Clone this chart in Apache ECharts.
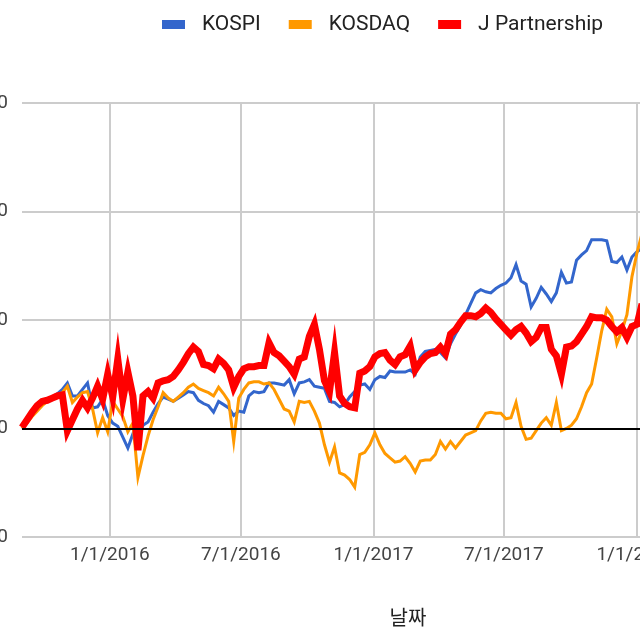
<!DOCTYPE html>
<html style="height: 100%">
<head>
    <meta charset="utf-8">
    <script src="https://cdn.jsdelivr.net/npm/echarts@6.0.0/dist/echarts.min.js"></script>
</head>
<body style="height: 100%; margin: 0; background: #fff">
<div id="container" style="width: 640px; height: 640px"></div>
<script>
    // weekly points
    var dates = [
        '2015-09-01','2015-09-08','2015-09-15','2015-09-22','2015-09-29','2015-10-06','2015-10-13','2015-10-20','2015-10-27','2015-11-03',
        '2015-11-10','2015-11-17','2015-11-24','2015-12-01','2015-12-08','2015-12-15','2015-12-22','2015-12-29','2016-01-05','2016-01-12',
        '2016-01-19','2016-01-26','2016-02-02','2016-02-09','2016-02-16','2016-02-23','2016-03-01','2016-03-08','2016-03-15','2016-03-22',
        '2016-03-29','2016-04-05','2016-04-12','2016-04-19','2016-04-26','2016-05-03','2016-05-10','2016-05-17','2016-05-24','2016-05-31',
        '2016-06-07','2016-06-14','2016-06-21','2016-06-28','2016-07-05','2016-07-12','2016-07-19','2016-07-26','2016-08-02','2016-08-09',
        '2016-08-16','2016-08-23','2016-08-30','2016-09-06','2016-09-13','2016-09-20','2016-09-27','2016-10-04','2016-10-11','2016-10-18',
        '2016-10-25','2016-11-01','2016-11-08','2016-11-15','2016-11-22','2016-11-29','2016-12-06','2016-12-13','2016-12-20','2016-12-27',
        '2017-01-03','2017-01-10','2017-01-17','2017-01-24','2017-01-31','2017-02-07','2017-02-14','2017-02-21','2017-02-28','2017-03-07',
        '2017-03-14','2017-03-21','2017-03-28','2017-04-04','2017-04-11','2017-04-18','2017-04-25','2017-05-02','2017-05-09','2017-05-16',
        '2017-05-23','2017-05-30','2017-06-06','2017-06-13','2017-06-20','2017-06-27','2017-07-04','2017-07-11','2017-07-18','2017-07-25',
        '2017-08-01','2017-08-08','2017-08-15','2017-08-22','2017-08-29','2017-09-05','2017-09-12','2017-09-19','2017-09-26','2017-10-03',
        '2017-10-10','2017-10-17','2017-10-24','2017-10-31','2017-11-07','2017-11-14','2017-11-21','2017-11-28','2017-12-05','2017-12-12',
        '2017-12-19','2017-12-26','2018-01-02','2018-01-09'
    ];
    var kospi = [
        0, 0.6, 1.2, 1.7, 2.2, 2.6, 2.9, 3.2, 3.6, 4.2,
        3.0, 3.0, 3.6, 4.2, 1.9, 2.0, 2.7, 1.2, 0.5, 0.2,
        -0.8, -1.8, -0.5, -1.0, 0.3, 0.6, 1.5, 2.3, 2.9, 2.7,
        2.5, 2.8, 3.1, 3.4, 3.3, 2.6, 2.3, 2.1, 1.5, 2.5,
        2.2, 1.9, 1.2, 1.6, 1.5, 3.0, 3.4, 3.3, 3.4, 4.2,
        4.2, 4.1, 4.0, 4.5, 3.2, 4.2, 4.3, 4.5, 3.9, 3.8,
        3.7, 2.5, 2.4, 2.0, 2.2, 2.9, 3.4, 4.0, 4.1, 3.6,
        4.5, 4.8, 4.7, 5.3, 5.2, 5.2, 5.2, 5.4, 5.0, 6.6,
        7.1, 7.2, 7.3, 7.0, 6.5, 7.8, 8.7, 9.5, 10.5, 11.5,
        12.5, 12.8, 12.6, 12.5, 12.9, 13.2, 13.4, 13.9, 15.1, 13.6,
        13.3, 11.2, 12.0, 13.0, 12.4, 11.7, 12.5, 14.4, 13.4, 13.5,
        15.5, 16.0, 16.4, 17.4, 17.4, 17.4, 17.3, 15.4, 15.3, 15.8,
        14.6, 15.8, 16.3, 16.6
    ];
    var kosdaq = [
        0, 0.5, 1.1, 1.6, 2.1, 2.5, 2.8, 3.1, 3.3, 3.9,
        2.4, 2.9, 3.3, 3.4, 1.8, -0.4, 1.0, -0.3, 2.5, 1.8,
        1.1, -0.3, 0.5, -4.5, -2.5, -0.7, 0.8, 2.0, 3.3, 2.8,
        2.5, 2.9, 3.3, 3.8, 4.1, 3.7, 3.5, 3.3, 3.0, 3.8,
        3.2, 2.5, -1.2, 2.8, 3.6, 4.2, 4.3, 4.3, 4.1, 4.2,
        3.6, 2.7, 1.8, 1.6, 0.6, 2.5, 2.4, 2.5, 1.6, 0.5,
        -1.5, -3.1, -1.7, -4.1, -4.3, -4.7, -5.4, -2.4, -2.2, -1.5,
        -0.4, -1.5, -2.3, -2.7, -3.1, -3.0, -2.6, -3.2, -4.0, -3.0,
        -2.9, -2.9, -2.4, -1.2, -1.9, -1.2, -1.8, -1.2, -0.6, -0.4,
        -0.2, 0.7, 1.4, 1.5, 1.4, 1.4, 0.9, 1.0, 2.4, 0.2,
        -1.0, -0.9, -0.2, 0.5, 1.0, 0.3, 2.4, -0.2, 0.0, 0.3,
        0.9, 2.0, 3.3, 4.1, 6.5, 9.0, 11.0, 10.3, 7.8, 9.0,
        10.5, 14.0, 16.2, 18.0
    ];
    var jPartnership = [
        0.1, 0.8, 1.5, 2.1, 2.5, 2.6, 2.8, 3.0, 3.1, -0.2,
        0.8, 1.8, 2.6, 1.9, 2.8, 3.9, 2.7, 5.0, 2.9, 6.4,
        2.7, 5.2, 3.0, -2.0, 3.0, 3.4, 2.8, 4.2, 4.4, 4.5,
        4.8, 5.4, 6.1, 6.9, 7.5, 7.1, 5.9, 5.8, 5.5, 6.4,
        6.0, 5.4, 3.8, 4.8, 5.5, 5.7, 5.7, 5.8, 5.8, 7.9,
        7.0, 6.7, 6.2, 5.7, 5.0, 6.4, 6.6, 8.5, 9.6, 7.3,
        4.4, 3.4, 7.0, 3.0, 2.3, 2.0, 1.9, 5.1, 5.3, 5.7,
        6.6, 6.9, 7.0, 6.3, 5.9, 6.6, 6.8, 7.6, 5.4, 6.1,
        6.6, 6.9, 7.0, 7.5, 6.9, 8.7, 9.1, 9.8, 10.4, 10.4,
        10.3, 10.6, 11.1, 10.7, 10.1, 9.6, 9.1, 8.6, 9.1, 9.4,
        8.8, 8.0, 8.4, 9.3, 9.3, 7.3, 6.7, 5.0, 7.5, 7.6,
        8.0, 8.7, 9.4, 10.3, 10.2, 10.2, 10.0, 9.4, 8.9, 9.3,
        8.4, 9.4, 9.6, 11.5
    ];
    var tickDates = ['2016-01-01', '2016-07-01', '2017-01-01', '2017-07-01', '2018-01-01', '2018-07-01'];

    function ts(s) {
        var p = s.split('-');
        return new Date(+p[0], +p[1] - 1, +p[2]).getTime();
    }
    function pairs(values) {
        return dates.map(function (d, i) { return [ts(d), values[i]]; });
    }
    var tickValues = tickDates.map(ts);

    var dom = document.getElementById('container');
    var myChart = echarts.init(dom);
    var option = {
        animation: false,
        backgroundColor: '#fff',
        textStyle: { fontFamily: 'Roboto' },
        legend: {
            left: 157,
            top: 9,
            icon: 'rect',
            itemWidth: 23,
            itemHeight: 9,
            itemGap: 28,
            textStyle: { fontSize: 21, color: '#222', padding: [0, 0, 0, 12] },
            data: ['KOSPI', 'KOSDAQ', 'J Partnership']
        },
        grid: { left: 22, right: -154, top: 103, bottom: 103, outerBoundsMode: 'none', containLabel: false },
        xAxis: {
            type: 'value',
            min: ts('2015-09-01'),
            max: ts('2018-08-08'),
            name: '날짜',
            nameLocation: 'middle',
            nameGap: 70,
            nameTextStyle: { fontSize: 20, color: '#222', fontFamily: 'Noto Sans CJK KR' },
            axisLine: { show: false },
            axisTick: { show: false, customValues: tickValues },
            axisLabel: {
                customValues: tickValues,
                fontSize: 19,
                color: '#444',
                margin: 9,
                formatter: function (v) {
                    var d = new Date(v);
                    return (d.getMonth() + 1) + '/' + d.getDate() + '/' + d.getFullYear();
                }
            },
            splitLine: { show: true, lineStyle: { color: '#ccc', width: 2 } }
        },
        yAxis: {
            type: 'value',
            min: -10,
            max: 30,
            interval: 10,
            axisLine: { show: false },
            axisTick: { show: false },
            axisLabel: { fontSize: 19, color: '#444', margin: 14 },
            splitLine: { lineStyle: { color: '#ccc', width: 2 } }
        },
        series: [
            {
                name: 'KOSPI',
                type: 'line',
                showSymbol: false,
                symbol: 'none',
                data: pairs(kospi),
                itemStyle: { color: '#3366cc' },
                lineStyle: { color: '#3366cc', width: 3, join: 'miter' },
                markLine: {
                    silent: true,
                    symbol: 'none',
                    label: { show: false },
                    lineStyle: { color: '#000', width: 2, type: 'solid' },
                    data: [{ yAxis: 0 }]
                }
            },
            {
                name: 'KOSDAQ',
                type: 'line',
                showSymbol: false,
                symbol: 'none',
                data: pairs(kosdaq),
                itemStyle: { color: '#ff9900' },
                lineStyle: { color: '#ff9900', width: 3, join: 'miter' }
            },
            {
                name: 'J Partnership',
                type: 'line',
                showSymbol: false,
                symbol: 'none',
                data: pairs(jPartnership),
                itemStyle: { color: '#ff0000' },
                lineStyle: { color: '#ff0000', width: 7, join: 'miter' }
            }
        ]
    };
    myChart.setOption(option);
</script>
</body>
</html>
